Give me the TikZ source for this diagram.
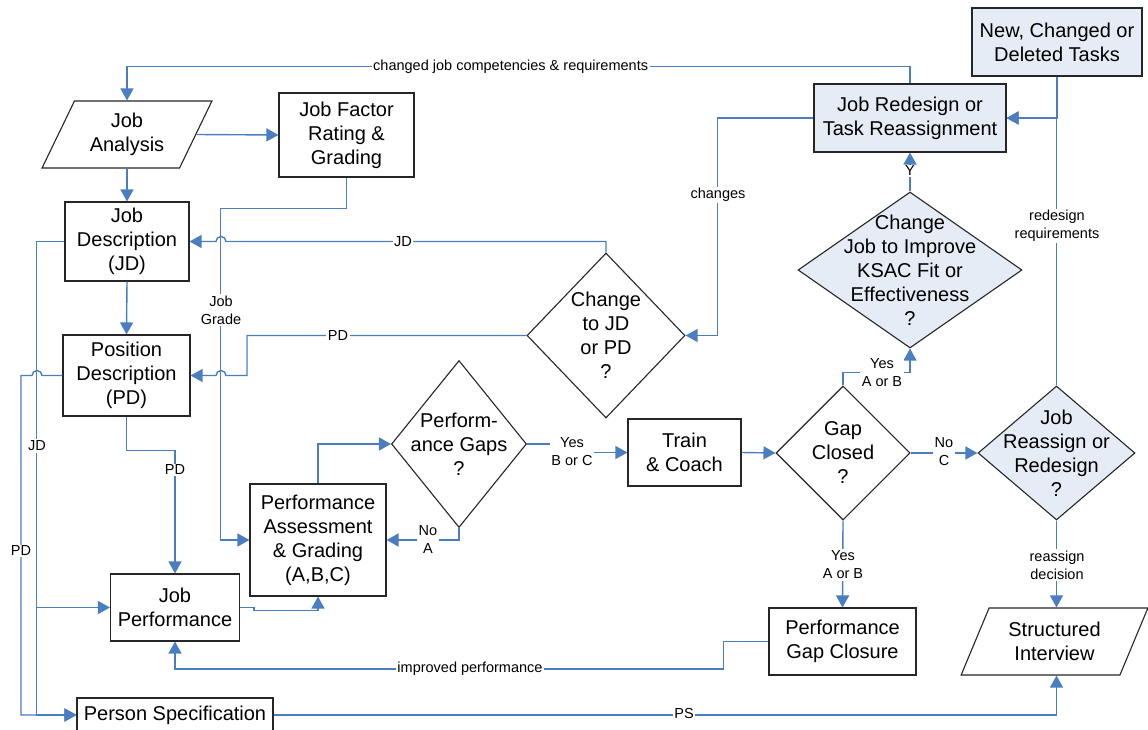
\documentclass[tikz,border=0pt]{standalone}
\usepackage{fontspec}
\setmainfont{Liberation Sans}
\usetikzlibrary{shapes.geometric,arrows.meta,calc}
\definecolor{flowblue}{RGB}{74,126,193}
\definecolor{taskfill}{RGB}{230,236,246}
\begin{document}
\begin{tikzpicture}[x=1pt,y=-1pt,
  box/.style={draw=black!85,line width=1.1pt,fill=white,align=center,inner sep=0pt,
    font=\fontsize{20}{24}\selectfont},
  shaded/.style={fill=taskfill},
  trap/.style={box,trapezium,trapezium stretches=true},
  decision/.style={diamond,draw=black!85,line width=1.1pt,fill=white,inner sep=0pt},
  dtext/.style={align=center,inner sep=0pt,font=\fontsize{20}{24}\selectfont},
  conn/.style={draw=flowblue,line width=1.4pt},
  arr/.style={conn,-{Triangle[length=12pt,width=13pt]}},
  lbl/.style={fill=white,inner sep=1.5pt,align=center,font=\fontsize{14.5}{18}\selectfont},
]
\useasboundingbox (0,0) rectangle (1148,730);

% ---- process boxes ----
\node[trap,trapezium left angle=61.7,trapezium right angle=118.3,
      minimum width=170pt,minimum height=67pt] (ja) at (127,134.5) {Job\\Analysis};
\node[box,minimum width=135pt,minimum height=84pt] (jf) at (346.5,135) {Job Factor\\Rating \&\\Grading};
\node[box,minimum width=124pt,minimum height=79pt] (jd) at (127,241.5) {Job\\Description\\(JD)};
\node[box,minimum width=127pt,minimum height=81pt] (pdn) at (126.5,375.5) {Position\\Description\\(PD)};
\node[box,minimum width=136pt,minimum height=112pt] (pa) at (318,540) {Performance\\Assessment\\\& Grading\\(A,B,C)};
\node[box,minimum width=129pt,minimum height=67pt] (jp) at (175,607.5) {Job\\Performance};
\node[box,minimum width=196pt,minimum height=34pt] (ps) at (175,715) {Person Specification};
\node[box,minimum width=113pt,minimum height=67pt] (train) at (684.5,452.5) {Train\\\& Coach};
\node[box,minimum width=147pt,minimum height=67pt] (pgc) at (842.5,641.5) {Performance\\Gap Closure};
\node[trap,trapezium left angle=63,trapezium right angle=117,
      minimum width=187pt,minimum height=67pt] (si) at (1054.5,641.5) {Structured\\Interview};
\node[box,shaded,minimum width=170pt,minimum height=68pt] (nt) at (1057,42) {New, Changed or\\Deleted Tasks};
\node[box,shaded,minimum width=192pt,minimum height=68pt] (jr) at (910,118) {Job Redesign or\\Task Reassignment};

% ---- decisions ----
\node[decision,minimum width=158pt,minimum height=165pt] (cjd) at (606,335.5) {};
\node[dtext] (cjdt) at (cjd) {Change\\to JD\\or PD\\?};
\node[decision,minimum width=135pt,minimum height=167pt] (pg) at (459,444) {};
\node[dtext] (pgt) at (pg) {Perform-\\ance Gaps\\?};
\node[decision,minimum width=134pt,minimum height=134pt] (gc) at (843,453) {};
\node[dtext] (gct) at (gc) {Gap\\Closed\\?};
\node[decision,shaded,minimum width=157pt,minimum height=134pt] (jrr) at (1056.5,453) {};
\node[dtext] (jrrt) at (jrr) {Job\\Reassign or\\Redesign\\?};
\node[decision,shaded,minimum width=224pt,minimum height=156pt] (cj) at (910,270) {};
\node[dtext] (cjt) at (cj) {Change\\Job to Improve\\KSAC Fit or\\Effectiveness\\?};

% ---- connectors ----
\draw[arr] (ja.center |- ja.south) -- (jd.north);
\draw[arr] (ja.east) -- (jf.west);
\draw[arr] (jd.south) -- (pdn.north);
\draw[arr] (jr.north) -- ++(0,-17) -| node[lbl,pos=0.255] (lchg) {changed job competencies \& requirements} (ja.center |- ja.north);

% job grade feed
\draw[arr] (jf.south) -- ++(0,31) -| ($(pa.west)+(-29,0)$) -- (pa.west);

% JD / PD feedback from the change decision (hopping over the grade line)
\draw[arr] (cjd.north) |- (226,241.5) arc[start angle=0,end angle=180,radius=5pt] -- (jd.east);
\draw[arr] (cjd.west) -- (247,335.5) -- (247,375.5) -- (226,375.5)
  arc[start angle=0,end angle=180,radius=5pt] -- (pdn.east);
\draw[arr] (jr.west) -- ++(-96,0) |- (cjd.east);

% left-hand feeds
\draw[arr] (jd.west) -- ++(-28,0) |- (ps.west);
\coordinate (jdtap) at (37,607.5);
\draw[arr] (jdtap) -- (jp.west);
\draw[arr] (pdn.west) -- (42,375.5) arc[start angle=0,end angle=180,radius=5pt] -- (21,375.5) |- (ps.west);
\draw[arr] (pdn.south) -- ++(0,34) -| (jp.north);

% performance loop
\draw[arr] (jp.east) -- ++(14,0) -- ++(0,3) -| (pa.south);
\draw[arr] (pa.north) |- (pg.west);
\draw[arr] (pg.south) |- (pa.east);
\draw[arr] (pg.east) -- ++(45,0) |- (train.west);
\draw[arr] (train.east) -- (gc.west);
\draw[arr] (gc.east) -- (jrr.west);
\draw[arr] (gc.south) -- (pgc.north);
\draw[arr] (gc.north) -- ++(0,-13) -| (cj.south);
\draw[arr] (cj.north) -- (jr.south);
\draw[arr] (jrr.south) -- (jrr.south |- si.north);
\draw[arr] (pgc.west) -- ++(-45,0) -- ++(0,27.5) -| (jp.south);
\draw[arr] (ps.east) -| (jrr.south |- si.south);
\draw[arr] (nt.south) |- (jr.east);
\draw[arr] (jrr.north) |- (jr.east);

% ---- connector labels ----
\node[lbl] (ljd) at (403,241.5) {JD};
\node[lbl] (lpd) at (338,335.5) {PD};
\node[lbl] (ljg) at (221,310) {Job\\Grade};
\node[lbl] (lchanges) at (718,195) {changes};
\node[lbl] (ljdl) at (37,446) {JD};
\node[lbl] (lpdl) at (21,551) {PD};
\node[lbl] (lpdj) at (175,470) {PD};
\node[lbl] (lnoa) at (428,540) {No\\A};
\node[lbl] (lyesbc) at (572,452) {Yes\\B or C};
\node[lbl] (lnoc) at (944,452) {No\\C};
\node[lbl] (lyesab) at (843,565) {Yes\\A or B};
\node[lbl] (lyesab2) at (882,373) {Yes\\A or B};
\node[lbl] (ly) at (910,171) {Y};
\node[lbl] (lreq) at (1057,226) {redesign\\requirements};
\node[lbl] (ldec) at (1057,565) {reassign\\decision};
\node[lbl] (limp) at (470,669) {improved performance};
\node[lbl] (lps) at (684,714) {PS};
\end{tikzpicture}
\end{document}
